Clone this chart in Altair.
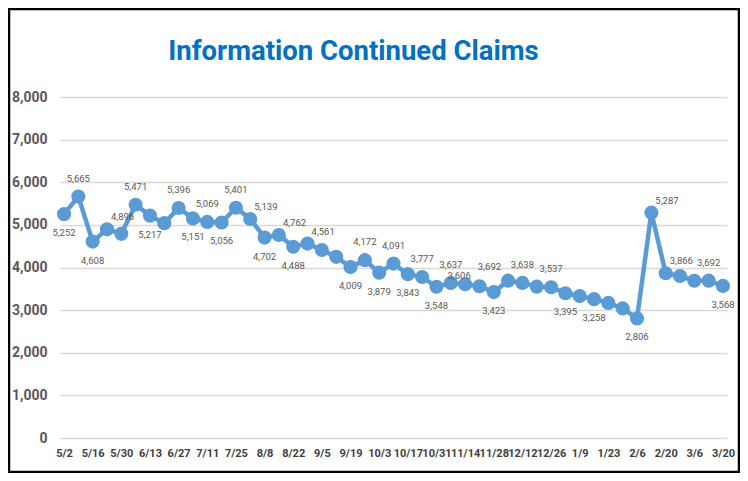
import altair as alt
import pandas as pd

weeks = ["5/2", "5/9", "5/16", "5/23", "5/30", "6/6", "6/13", "6/20", "6/27", "7/4",
         "7/11", "7/18", "7/25", "8/1", "8/8", "8/15", "8/22", "8/29", "9/5", "9/12",
         "9/19", "9/26", "10/3", "10/10", "10/17", "10/24", "10/31", "11/7", "11/14", "11/21",
         "11/28", "12/5", "12/12", "12/19", "12/26", "1/2", "1/9", "1/16", "1/23", "1/30",
         "2/6", "2/13", "2/20", "2/27", "3/6", "3/13", "3/20"]

claims = [5252, 5665, 4608, 4896, 4790, 5471, 5217, 5040, 5396, 5151,
          5069, 5056, 5401, 5139, 4702, 4762, 4488, 4561, 4410, 4250,
          4009, 4172, 3879, 4091, 3843, 3777, 3548, 3637, 3606, 3560,
          3423, 3692, 3638, 3550, 3537, 3395, 3330, 3258, 3170, 3040,
          2806, 5287, 3866, 3800, 3690, 3692, 3568]

# points whose value label is not shown in the reference
unlabeled = [4, 7, 18, 19, 29, 33, 36, 38, 39, 43, 44]

x_ticks = weeks[::2]

# label placement (style): below / right / left / over, others above
below_idx = [0, 2, 6, 9, 11, 14, 16, 20, 22, 24, 26, 30, 35, 37, 40, 46]
right_idx = [3, 13, 15, 17, 41, 42]
left_idx = [31]
over_idx = [28]

rows = []
for i, (w, v) in enumerate(zip(weeks, claims)):
    if i in below_idx:
        pos = "below"
    elif i in right_idx:
        pos = "right"
    elif i in left_idx:
        pos = "left"
    elif i in over_idx:
        pos = "over"
    else:
        pos = "above"
    rows.append({"week": w, "claims": v, "pos": pos,
                 "label": "" if i in unlabeled else f"{v:,}"})
df = pd.DataFrame(rows)

W, H = 667, 341
FONT = "Roboto"

x_enc = alt.X("week:O", sort=weeks,
              scale=alt.Scale(type="point", padding=0.28),
              axis=alt.Axis(values=x_ticks, title=None, labelAngle=0, labelFont=FONT,
                            labelFontSize=11, labelFontWeight="bold", labelColor="#404040",
                            domain=False, ticks=False, grid=False, labelPadding=9))
y_enc = alt.Y("claims:Q",
              scale=alt.Scale(domain=[0, 8000], nice=False),
              axis=alt.Axis(values=list(range(0, 8001, 1000)), format=",d", title=None,
                            labelFont=FONT, labelFontSize=14, labelFontWeight="bold",
                            labelColor="#595959", domain=False, ticks=False,
                            gridColor="#D9D9D9", gridWidth=1.3, labelPadding=13))

base = alt.Chart(df)

line = base.mark_line(color="#5B9BD5", strokeWidth=4.5).encode(x=x_enc, y=y_enc)
dots = base.mark_circle(color="#5B9BD5", size=200, opacity=1).encode(x=x_enc, y=y_enc)

txt_style = dict(font=FONT, fontSize=9.5, color="#595959")
lab_above = base.transform_filter("datum.pos == 'above'").mark_text(
    dy=-18, **txt_style).encode(x=x_enc, y=y_enc, text="label:N")
lab_below = base.transform_filter("datum.pos == 'below'").mark_text(
    dy=19, **txt_style).encode(x=x_enc, y=y_enc, text="label:N")
lab_right = base.transform_filter("datum.pos == 'right'").mark_text(
    dx=4, dy=-12, align="left", **txt_style).encode(x=x_enc, y=y_enc, text="label:N")
lab_left = base.transform_filter("datum.pos == 'left'").mark_text(
    dx=-7, dy=-14, align="right", **txt_style).encode(x=x_enc, y=y_enc, text="label:N")
lab_over = base.transform_filter("datum.pos == 'over'").mark_text(
    dx=-6, dy=-8, **txt_style).encode(x=x_enc, y=y_enc, text="label:N")

title_df = pd.DataFrame({"t": ["Information Continued Claims"]})
title = alt.Chart(title_df).mark_text(font=FONT, fontSize=27.5, fontWeight="bold",
                                      color="#0070C0", baseline="middle").encode(
    x=alt.value(W / 2 - 40), y=alt.value(-45), text="t:N")

frame = alt.Chart(title_df).mark_rect(fill=None, stroke="#000000", strokeWidth=2.5).encode(
    x=alt.value(-51), x2=alt.value(W + 12), y=alt.value(-88), y2=alt.value(H + 34))

chart = alt.layer(line, dots, lab_above, lab_below, lab_right, lab_left, lab_over,
                  title, frame).properties(
    width=W, height=H,
    autosize=alt.AutoSizeParams(type="none"),
    padding={"left": 52, "top": 89, "right": 13, "bottom": 35},
).configure_view(stroke=None)

chart.save("out.html", embed_options={"renderer": "svg", "actions": False})
